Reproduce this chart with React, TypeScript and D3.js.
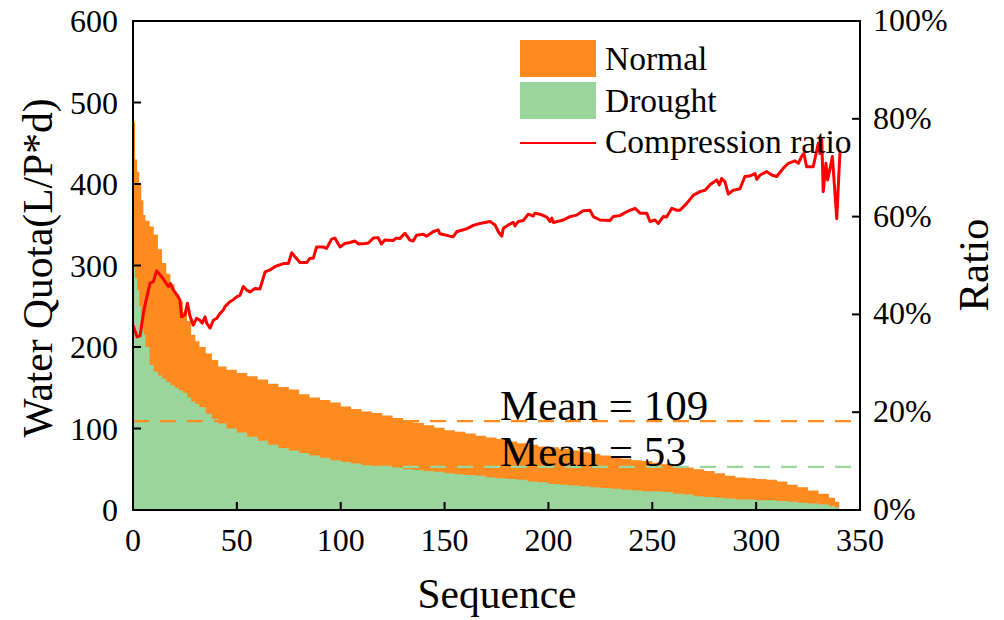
import React from "react";
import * as d3 from "d3";

// ---- data ----
const areaSeq = [0,1,2,3,4,5,6,8,10,12,14,16,18,20,22,24,26,28,30,32,35,38,41,45,50,55,60,65,70,75,80,85,90,95,100,105,110,115,120,125,130,135,140,145,150,155,160,165,170,175,180,185,190,195,200,205,210,215,220,225,230,235,240,245,250,255,260,265,270,275,280,285,290,295,300,305,310,315,320,325,330,335,338,340];
const normalQuota = [476,430,415,400,380,362,355,348,338,320,303,290,277,265,256,243,232,215,207,200,192,184,176,172,168,164,160,155,151,148,142,138,135,132,127,124,121,119,116,113,110,107,104,101,98,96,94,91,89,87,84,82,80,78,77,75,73,71,69,67,65,63,61,60,58,56,54,52,50,48,45,42,40,39,38,37,35,31,28,24,20,15,10,3];
const droughtQuota = [298,285,270,250,232,215,200,178,170,165,161,157,153,150,147,144,138,133,130,126,118,112,106,100,95,90,85,80,76,73,70,67,64,61,59,57,55,54,53,52,50,49,48,47,45,44,43,42,40,39,38,37,35,34,32,31,30,29,28,27,26,25,24,23,23,22,20,19,17,16,15,14,13,13,12,12,11,10,9,8,7,5,3,1];

const ratioSeq = [0,2,3.4,5,6,8.2,9.8,11.4,13.8,15.4,17,18,19.4,21.8,22.6,23.4,25,26.2,27.3,29,30.6,32.2,33.3,34.7,35.5,37.1,38.7,40.3,41.9,43.5,44.3,46.7,48.3,49.9,51.5,53.1,54.7,56.3,58.7,61.1,63.6,66,68.4,72.4,74.8,76.4,78,80.4,83.6,85.2,86.8,88.4,91.6,93.2,95.6,97.2,99.7,102,104.5,106.9,108.5,111.7,113.3,115.7,118,119.6,121.2,125.2,126.8,128.4,130.9,133.3,134.9,136.5,139.7,141.3,144.5,146.9,147.7,152.6,154.2,155.8,159,160.6,163.8,167,171.9,174.3,175.9,177.5,178.3,180.7,183.1,183.9,185.5,187.9,190.3,192.7,193.5,195.9,199.2,200.8,201.6,202.4,207.2,210.4,213.6,215.2,216.8,220,221.6,224.8,229.6,231.2,234.4,237.7,241.7,244.1,247.3,248.9,251.3,252.9,255.3,256.9,259.4,261.8,263.3,266.6,269.8,273,275.4,277.8,281,282.3,283.4,285,286.6,289,292.2,294.6,297,299.5,300.3,301.9,305.1,307.5,309.9,313.1,315.5,318.7,320.3,321.9,323,324.3,327.5,329.9,330.7,331.6,332.3,333.6,334.4,335.4,336.7,338.8,340.4];
const ratioVal = [37.8,35.4,35.6,40.2,42.3,46.4,46.7,48.9,47.7,46.7,45.7,46.3,45,43.6,42.9,39.5,39.9,42.3,39.9,37.8,39.2,38.8,38.2,39.5,38.2,37.2,38.8,39.2,40.2,40.9,41.6,42.6,43,43.6,43.9,45.7,45,44.6,45.3,45.2,48.7,49.1,49.8,50.4,50.4,52.6,51.8,50.6,50.6,51.5,51.5,53.8,53.8,53.5,55.4,55.6,53.8,54.5,54.7,55,54.4,54.5,54.6,55.6,55.7,54.4,55.2,55.1,55.6,55.5,56.6,55.2,55,56.2,56.4,56,56.9,57.3,56.5,56,55.9,56.9,57.3,57.5,58.2,58.6,59,58.3,56.9,56,57.6,58.3,58.8,58.1,59,59.2,60.5,60.1,60.7,60.5,59.9,59,59.7,58.8,59.3,60,60.3,60.8,61.2,61.3,60,59.3,59.2,60,60.2,61,61.7,60.7,60.7,59,59.3,58.6,60,59.9,61.7,61.3,61.3,62.7,64.4,65.1,65.4,66.5,67.5,66.5,67.8,67.1,64.6,65.4,65.7,68.2,68.3,68.8,67.6,68.5,69.2,68.5,68.2,69.9,70.9,71.4,70.9,72.3,72.9,70.2,70.2,75,72.9,75.6,65.1,70.9,67.5,69.5,72.3,59.6,73.6];

const meanNormal = 109;
const meanDrought = 53;

const xTicks = [0,50,100,150,200,250,300,350];
const yTicks = [0,100,200,300,400,500,600];
const rTicks = [0,20,40,60,80,100];

const ORANGE = "#FD8B1F";
const GREEN = "#9AD59B";
const RED = "#FF0000";
const FONT = "'Liberation Serif', 'Times New Roman', serif";

export default function App() {
  const L = 133, R = 860, T = 21, B = 510;
  const x = d3.scaleLinear().domain([0, 350]).range([L, R]);
  const y = d3.scaleLinear().domain([0, 600]).range([B, T]);
  const yr = d3.scaleLinear().domain([0, 100]).range([B, T]);

  const idx = areaSeq.map((_, i) => i);
  const normalArea = d3.area<number>()
    .x((i) => x(areaSeq[i]))
    .y0(y(0))
    .y1((i) => y(normalQuota[i]))
    .curve(d3.curveStepAfter)(idx) || "";
  const droughtArea = d3.area<number>()
    .x((i) => x(areaSeq[i]))
    .y0(y(0))
    .y1((i) => y(droughtQuota[i]))
    .curve(d3.curveStepAfter)(idx) || "";
  const ratioLine = d3.line<number>()
    .x((i) => x(ratioSeq[i]))
    .y((i) => yr(ratioVal[i]))(ratioSeq.map((_, i) => i)) || "";

  const tick = 8;

  return (
    <svg width={1004} height={620} style={{ position: "absolute", left: 0, top: 0, background: "#fff" }} fontFamily={FONT}>
      <rect x={0} y={0} width={1004} height={620} fill="#fff" />
      <path d={normalArea} fill={ORANGE} />
      <path d={droughtArea} fill={GREEN} />
      <line x1={L} x2={R} y1={y(meanNormal)} y2={y(meanNormal)} stroke={ORANGE} strokeWidth={2.3} strokeDasharray="16 11" />
      <line x1={L} x2={R} y1={y(meanDrought)} y2={y(meanDrought)} stroke={GREEN} strokeWidth={2.3} strokeDasharray="16 11" />
      <path d={ratioLine} fill="none" stroke={RED} strokeWidth={3} strokeLinejoin="round" />

      <text x={500} y={y(meanNormal) - 1} fontSize={43} fill="#000">Mean = {meanNormal}</text>
      <text x={500} y={y(meanDrought) - 1} fontSize={43} fill="#000">Mean = {meanDrought}</text>

      {/* frame */}
      <rect x={L} y={T} width={R - L} height={B - T} fill="none" stroke="#000" strokeWidth={2} />

      {/* bottom axis */}
      {xTicks.map((t) => (
        <g key={"x" + t}>
          <line x1={x(t)} x2={x(t)} y1={B} y2={B - tick} stroke="#000" strokeWidth={2} />
          <text x={x(t)} y={551} fontSize={32} textAnchor="middle">{t}</text>
        </g>
      ))}
      {/* left axis */}
      {yTicks.map((t) => (
        <g key={"y" + t}>
          <line x1={L} x2={L + tick} y1={y(t)} y2={y(t)} stroke="#000" strokeWidth={2} />
          <text x={118} y={y(t) + 11} fontSize={32} textAnchor="end">{t}</text>
        </g>
      ))}
      {/* right axis */}
      {rTicks.map((t) => (
        <g key={"r" + t}>
          <line x1={R} x2={R - tick} y1={yr(t)} y2={yr(t)} stroke="#000" strokeWidth={2} />
          <text x={873} y={yr(t) + 10} fontSize={32} textAnchor="start">{t}%</text>
        </g>
      ))}

      <text x={497} y={608} fontSize={41.5} textAnchor="middle">Sequence</text>
      <text transform={`translate(52,${268}) rotate(-90)`} fontSize={41.5} textAnchor="middle">Water Quota(L/P*d)</text>
      <text transform={`translate(988,${265}) rotate(-90)`} fontSize={43} textAnchor="middle">Ratio</text>

      {/* legend */}
      <rect x={520} y={40} width={76} height={37} fill={ORANGE} />
      <rect x={520} y={82} width={76} height={37} fill={GREEN} />
      <line x1={520} x2={596} y1={143} y2={143} stroke={RED} strokeWidth={2} />
      <text x={605} y={70} fontSize={33.5}>Normal</text>
      <text x={605} y={112} fontSize={33.5}>Drought</text>
      <text x={605} y={153} fontSize={33.5}>Compression ratio</text>
    </svg>
  );
}
